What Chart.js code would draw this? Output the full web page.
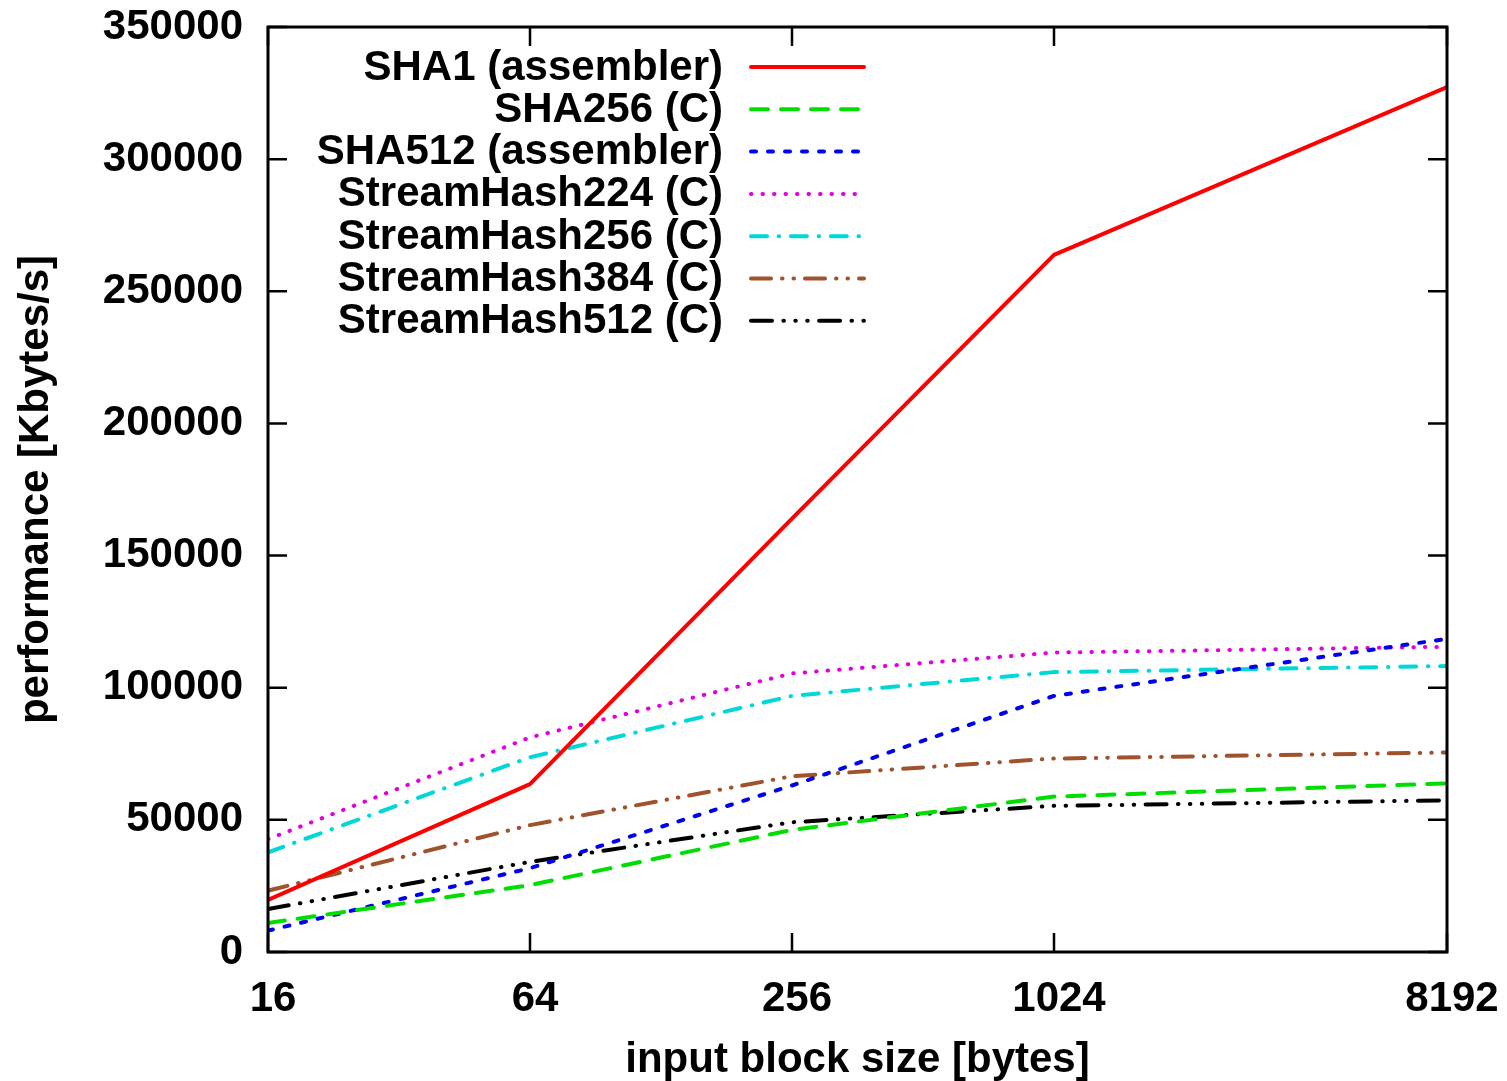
<!DOCTYPE html>
<html>
<head>
<meta charset="utf-8">
<script src="https://cdn.jsdelivr.net/npm/chart.js@4/dist/chart.umd.min.js"></script>
<style>
  html, body { margin: 0; padding: 0; background: #fff; }
  #wrap { width: 1507px; height: 1081px; }
</style>
</head>
<body>
<div id="wrap"><canvas id="perfChart"></canvas></div>
<script>
// block sizes in bytes, plotted on a log2 axis
const blockSizes = [16, 64, 256, 1024, 8192];

const sha1Asm = [19700, 63500, 164000, 263800, 327300];
const sha256C = [11000, 25300, 46200, 58800, 63800];
const sha512Asm = [8100, 31700, 63000, 96900, 118500];
const streamHash224 = [42700, 81200, 105400, 113300, 115500];
const streamHash256 = [37700, 73700, 96900, 105900, 108200];
const streamHash384 = [23200, 48000, 66500, 73200, 75500];
const streamHash512 = [16250, 34100, 49100, 55300, 57400];

const yTicks = [0, 50000, 100000, 150000, 200000, 250000, 300000, 350000];

const FONT = 'Liberation Sans';

function series(label, values, color, dash) {
  return {
    label: label,
    data: values.map((v, i) => ({ x: blockSizes[i], y: v })),
    borderColor: color,
    backgroundColor: color,
    borderWidth: 4,
    borderDash: dash,
    borderCapStyle: 'round',
    borderJoinStyle: 'round',
    pointRadius: 0,
    tension: 0,
    fill: false
  };
}

// gnuplot style frame: box around the plot with inward ticks on all sides
const framePlugin = {
  id: 'frame',
  afterDatasetsDraw(chart) {
    const { ctx, chartArea: a, scales } = chart;
    const tick = 19;
    ctx.save();
    ctx.strokeStyle = '#000';
    ctx.lineWidth = 3;
    ctx.strokeRect(a.left, a.top, a.right - a.left, a.bottom - a.top);
    ctx.lineWidth = 2.5;
    ctx.beginPath();
    scales.y.ticks.forEach((t, i) => {
      const y = scales.y.getPixelForTick(i);
      ctx.moveTo(a.left, y); ctx.lineTo(a.left + tick, y);
      ctx.moveTo(a.right, y); ctx.lineTo(a.right - tick, y);
    });
    scales.x.ticks.forEach((t, i) => {
      const x = scales.x.getPixelForTick(i);
      ctx.moveTo(x, a.bottom); ctx.lineTo(x, a.bottom - tick);
      ctx.moveTo(x, a.top); ctx.lineTo(x, a.top + tick);
    });
    ctx.stroke();
    ctx.restore();
  }
};

// key in the top-left corner, text right aligned with the line sample after it
const keyPlugin = {
  id: 'key',
  afterDraw(chart) {
    const { ctx } = chart;
    const textRight = 723;
    const sampleLeft = 751;
    const sampleRight = 864;
    const firstRow = 67;
    const rowStep = 42.3;
    ctx.save();
    ctx.font = `bold 42px "${FONT}"`;
    ctx.textAlign = 'right';
    ctx.textBaseline = 'middle';
    chart.data.datasets.forEach((ds, i) => {
      const y = firstRow + i * rowStep;
      ctx.fillStyle = '#000';
      ctx.fillText(ds.label, textRight, y + 1);
      ctx.strokeStyle = ds.borderColor;
      ctx.lineWidth = ds.borderWidth;
      ctx.lineCap = 'round';
      ctx.setLineDash(ds.borderDash || []);
      ctx.beginPath();
      ctx.moveTo(sampleLeft, y);
      ctx.lineTo(sampleRight, y);
      ctx.stroke();
    });
    ctx.restore();
  }
};

const ctx = document.getElementById('perfChart').getContext('2d');

new Chart(ctx, {
  type: 'line',
  data: {
    datasets: [
      series('SHA1 (assembler)', sha1Asm, '#ff0000', []),
      series('SHA256 (C)', sha256C, '#00dd00', [17, 13]),
      series('SHA512 (assembler)', sha512Asm, '#0000ee', [5, 12]),
      series('StreamHash224 (C)', streamHash224, '#e000e0', [0.5, 11]),
      series('StreamHash256 (C)', streamHash256, '#00d8d8', [16, 11.7, 0.5, 11.7]),
      series('StreamHash384 (C)', streamHash384, '#a0522d', [20, 11, 0.5, 11, 0.5, 11]),
      series('StreamHash512 (C)', streamHash512, '#000000', [21, 11.4, 0.5, 11.4, 0.5, 11.4, 0.5, 11.4])
    ]
  },
  options: {
    responsive: true,
    maintainAspectRatio: false,
    animation: false,
    layout: { padding: { top: 27, right: 60, left: 0, bottom: 0 } },
    plugins: {
      legend: { display: false },
      tooltip: { enabled: false }
    },
    scales: {
      x: {
        type: 'logarithmic',
        min: 16,
        max: 8192,
        afterBuildTicks(scale) { scale.ticks = blockSizes.map(v => ({ value: v })); },
        grid: { drawOnChartArea: false, drawTicks: false },
        border: { display: false },
        ticks: {
          color: '#000',
          padding: 22,
          labelOffset: 5,
          maxRotation: 0,
          autoSkip: false,
          callback: v => String(v),
          font: { family: FONT, size: 42, weight: 'bold' }
        },
        title: {
          display: true,
          text: 'input block size [bytes]',
          color: '#000',
          padding: { top: 0, bottom: -5 },
          font: { family: FONT, size: 42, weight: 'bold' }
        },
        afterFit(scale) {
          scale.height = 129;
          scale.paddingLeft = 0;
          scale.paddingRight = 0;
        }
      },
      y: {
        min: 0,
        max: 350000,
        afterBuildTicks(scale) { scale.ticks = yTicks.map(v => ({ value: v })); },
        grid: { drawOnChartArea: false, drawTicks: false },
        border: { display: false },
        ticks: {
          color: '#000',
          padding: 25,
          callback: v => String(v),
          font: { family: FONT, size: 42, weight: 'bold' }
        },
        title: {
          display: true,
          text: 'performance [Kbytes/s]',
          color: '#000',
          padding: { top: 11, bottom: 0 },
          font: { family: FONT, size: 42, weight: 'bold' }
        },
        afterFit(scale) {
          scale.width = 268;
          scale.paddingTop = 0;
          scale.paddingBottom = 0;
        }
      }
    }
  },
  plugins: [framePlugin, keyPlugin]
});
</script>
</body>
</html>
